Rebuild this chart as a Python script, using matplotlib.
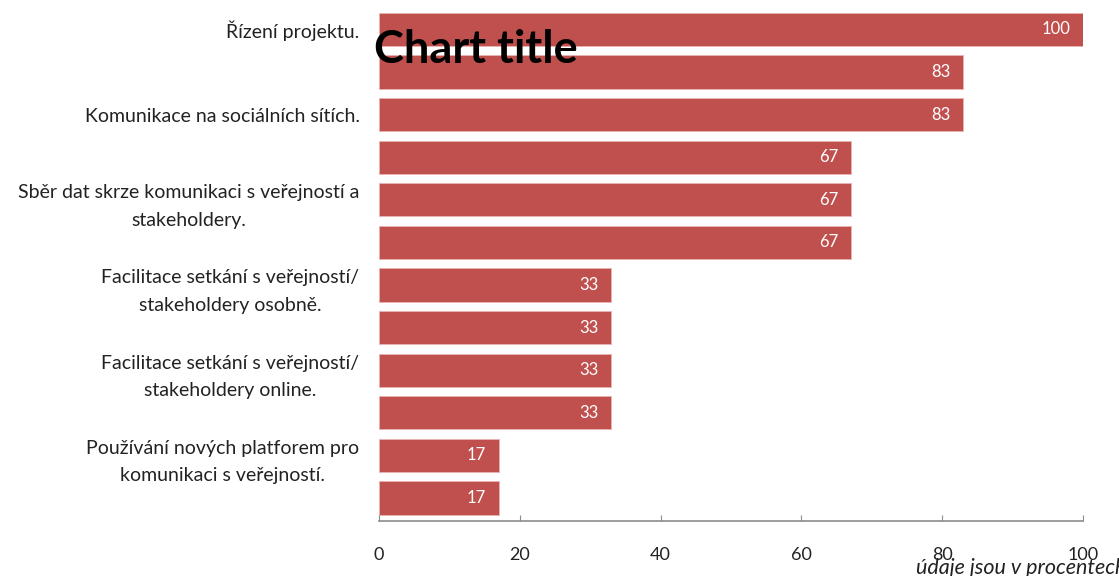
import matplotlib.pyplot as plt

plt.rcParams['font.family'] = ['Lato', 'DejaVu Sans']

# categories, top to bottom; only every other label is shown on the axis
categories = [
    'Řízení projektu.',
    '',
    'Komunikace na sociálních sítích.',
    '',
    'Sběr dat skrze komunikaci s veřejností a\nstakeholdery.',
    '',
    'Facilitace setkání s veřejností/\nstakeholdery osobně.',
    '',
    'Facilitace setkání s veřejností/\nstakeholdery online.',
    '',
    'Používání nových platforem pro\nkomunikaci s veřejností.',
    '',
]
values = [100, 83, 83, 67, 67, 67, 33, 33, 33, 33, 17, 17]
xticks = [0, 20, 40, 60, 80, 100]

fig = plt.figure(figsize=(11.19, 5.76), dpi=100)
ax = fig.add_axes([0.3387, 0.0955, 0.6291, 0.8905])

pos = list(range(len(values)))
ax.barh(pos, values, height=0.78, color='#C0504D', edgecolor='#E8B4B2', linewidth=0.6)

for y, v in zip(pos, values):
    ax.text(v - 1.8, y, str(v), ha='right', va='center', color='white', fontsize=12)

ax.set_ylim(11.54, -0.5)
ax.set_xlim(0, 100)
ax.set_yticks(pos)
ax.set_yticklabels(categories, fontsize=14, multialignment='center',
                   linespacing=1.75, color='#222222')
ax.tick_params(axis='y', length=0, pad=14)
ax.set_xticks(xticks)
ax.set_xticklabels([str(t) for t in xticks], fontsize=13, color='#222222')
ax.tick_params(axis='x', direction='in', length=4, color='#8c8c8c', pad=19)

for side in ['top', 'right', 'left']:
    ax.spines[side].set_visible(False)
ax.spines['bottom'].set_color('#8c8c8c')
ax.spines['bottom'].set_linewidth(1.2)

fig.text(0.334, 0.914, 'Chart title', fontsize=32.5, fontweight='bold', ha='left', va='center')
fig.text(0.819, 0.014, 'údaje jsou v procentech', fontsize=15.5, style='italic',
         ha='left', va='center', color='#222222')

fig.savefig('out.png', dpi=100)
